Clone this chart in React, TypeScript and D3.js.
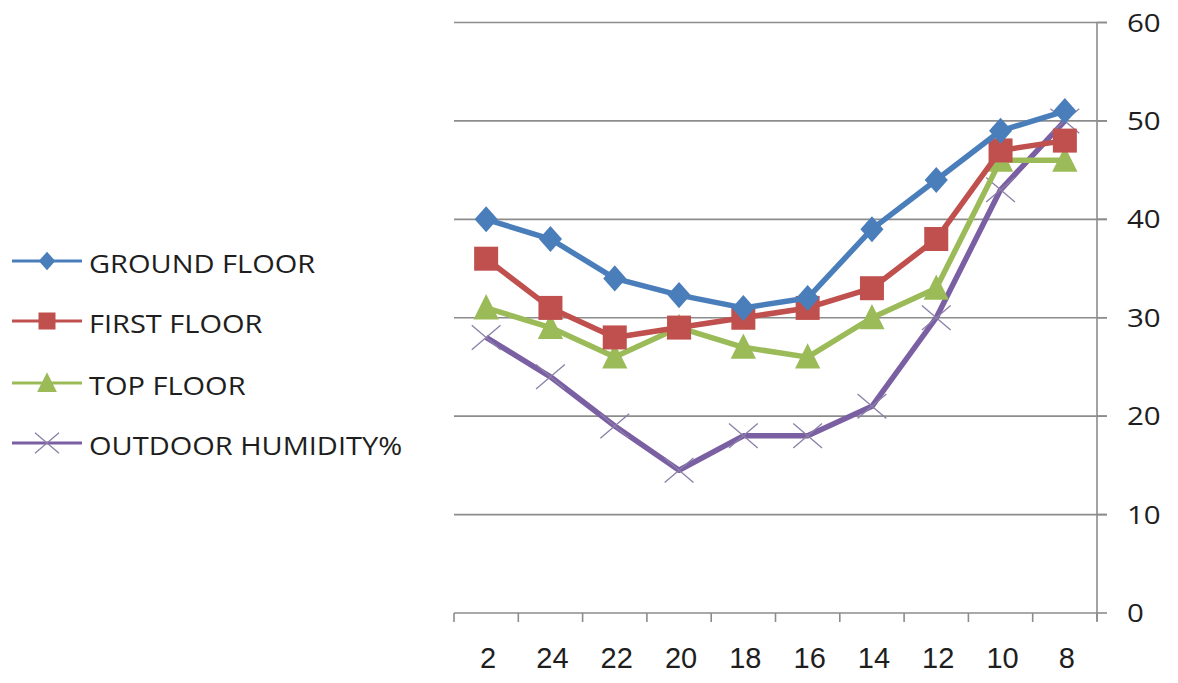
import React, { useEffect, useRef } from "react";
import * as d3 from "d3";

// Hours (read right-to-left in time) and humidity readings per floor
const hours = ["2", "24", "22", "20", "18", "16", "14", "12", "10", "8"];
const groundFloor = [40, 38, 34, 32.3, 31, 32, 39, 44, 49, 51];
const firstFloor = [36, 31, 28, 29, 30, 31, 33, 38, 47, 48];
const topFloor = [31, 29, 26, 29, 27, 26, 30, 33, 46, 46];
const outdoorHumidity = [28, 24, 19, 14.5, 18, 18, 21, 30, 43, 50];
const yTicks = [0, 10, 20, 30, 40, 50, 60];
const seriesNames = ["GROUND FLOOR", "FIRST FLOOR", "TOP FLOOR", "OUTDOOR HUMIDITY%"];

const W = 1178;
const H = 683;

export default function App() {
  const ref = useRef<SVGSVGElement | null>(null);

  useEffect(() => {
    const svg = d3.select(ref.current);
    svg.selectAll("*").remove();

    const left = 454;
    const right = 1097;
    const top = 22.5;
    const bottom = 613;

    const x = d3.scaleBand<string>().domain(hours).range([left, right]).padding(0);
    const y = d3.scaleLinear().domain([0, 60]).range([bottom, top]);
    const cx = (h: string) => (x(h) as number) + x.bandwidth() / 2;

    const font = "'Open Sans', 'Liberation Sans', sans-serif";
    const gridColor = "#8c8c8c";
    const textColor = "#1e1e1e";

    // horizontal gridlines
    svg
      .append("g")
      .selectAll("line")
      .data(yTicks.filter((t) => t > 0))
      .join("line")
      .attr("x1", left)
      .attr("x2", right + 10)
      .attr("y1", (d) => y(d))
      .attr("y2", (d) => y(d))
      .attr("stroke", gridColor)
      .attr("stroke-width", 1.6);

    // right value axis
    const yAxis = svg.append("g");
    yAxis
      .append("line")
      .attr("x1", right)
      .attr("x2", right)
      .attr("y1", top)
      .attr("y2", bottom + 8)
      .attr("stroke", gridColor)
      .attr("stroke-width", 1.6);
    yAxis
      .selectAll("line.tick")
      .data(yTicks)
      .join("line")
      .attr("class", "tick")
      .attr("x1", right)
      .attr("x2", right + 10)
      .attr("y1", (d) => y(d))
      .attr("y2", (d) => y(d))
      .attr("stroke", gridColor)
      .attr("stroke-width", 1.6);
    yAxis
      .selectAll("text")
      .data(yTicks)
      .join("text")
      .attr("transform", (d) => `translate(${right + 30},${y(d) + 9}) scale(1.18,1)`)
      .attr("font-family", font)
      .attr("font-size", 25)
      .attr("fill", textColor)
      .text((d) => String(d));

    // bottom category axis
    const xAxis = svg.append("g");
    xAxis
      .append("line")
      .attr("x1", left)
      .attr("x2", right)
      .attr("y1", bottom)
      .attr("y2", bottom)
      .attr("stroke", gridColor)
      .attr("stroke-width", 1.6);
    const edges = hours.map((h) => x(h) as number).concat([right]);
    xAxis
      .selectAll("line.tick")
      .data(edges)
      .join("line")
      .attr("class", "tick")
      .attr("x1", (d) => d)
      .attr("x2", (d) => d)
      .attr("y1", bottom)
      .attr("y2", bottom + 9)
      .attr("stroke", gridColor)
      .attr("stroke-width", 1.6);
    xAxis
      .selectAll("text")
      .data(hours)
      .join("text")
      .attr("x", (d) => cx(d) + 2)
      .attr("y", 668)
      .attr("text-anchor", "middle")
      .attr("font-family", "'Liberation Sans', Arial, sans-serif")
      .attr("font-size", 29)
      .attr("fill", textColor)
      .text((d) => d);

    const series = [
      { name: seriesNames[0], values: groundFloor, color: "#4a7ebb", marker: "diamond" },
      { name: seriesNames[1], values: firstFloor, color: "#c0504d", marker: "square" },
      { name: seriesNames[2], values: topFloor, color: "#9bbb59", marker: "triangle" },
      { name: seriesNames[3], values: outdoorHumidity, color: "#7b5fa3", marker: "x" },
    ];

    const drawMarker = (g: any, kind: string, px: number, py: number, color: string, s: number) => {
      if (kind === "diamond") {
        g.append("path")
          .attr("d", `M${px},${py - s * 0.62}L${px + s * 0.55},${py}L${px},${py + s * 0.62}L${px - s * 0.55},${py}Z`)
          .attr("fill", color);
      } else if (kind === "square") {
        g.append("rect")
          .attr("x", px - s / 2)
          .attr("y", py - s / 2)
          .attr("width", s)
          .attr("height", s)
          .attr("fill", color);
      } else if (kind === "triangle") {
        g.append("path")
          .attr("d", `M${px},${py - s * 0.6}L${px + s * 0.55},${py + s * 0.5}L${px - s * 0.55},${py + s * 0.5}Z`)
          .attr("fill", color);
      } else {
        const r = s * 0.6;
        g.append("path")
          .attr("d", `M${px - r},${py - r * 0.85}L${px + r},${py + r * 0.85}M${px - r},${py + r * 0.85}L${px + r},${py - r * 0.85}`)
          .attr("stroke", "#8a7fa8")
          .attr("stroke-width", 1.3)
          .attr("fill", "none");
      }
    };

    const line = d3
      .line<number>()
      .x((_, i) => cx(hours[i]))
      .y((d) => y(d));

    // draw in reverse so ground floor sits on top
    [...series].reverse().forEach((s) => {
      const g = svg.append("g");
      g.append("path")
        .attr("d", line(s.values))
        .attr("fill", "none")
        .attr("stroke", s.color)
        .attr("stroke-width", 5.5)
        .attr("stroke-linejoin", "round");
      const size = s.marker === "diamond" ? 21 : s.marker === "square" ? 24 : s.marker === "triangle" ? 23 : 24;
      s.values.forEach((v, i) => drawMarker(g, s.marker, cx(hours[i]), y(v), s.color, size));
    });

    // legend
    const legendY = [261, 321, 383, 443];
    series.forEach((s, i) => {
      const g = svg.append("g");
      const ly = legendY[i];
      g.append("line")
        .attr("x1", 12)
        .attr("x2", 82)
        .attr("y1", ly)
        .attr("y2", ly)
        .attr("stroke", s.color)
        .attr("stroke-width", 3);
      const size = s.marker === "diamond" ? 15 : s.marker === "square" ? 17 : s.marker === "triangle" ? 18 : 20;
      drawMarker(g, s.marker, 47, ly, s.color, size);
      g.append("text")
        .attr("transform", `translate(89,${ly + 12}) scale(1.16,1)`)
        .attr("font-family", font)
        .attr("font-size", 25)
        .attr("fill", textColor)
        .text(s.name);
    });
  }, []);

  return (
    <svg
      ref={ref}
      width={W}
      height={H}
      style={{ position: "absolute", left: 0, top: 0, background: "#fff" }}
    />
  );
}
